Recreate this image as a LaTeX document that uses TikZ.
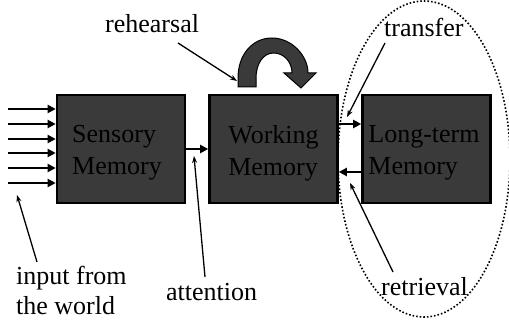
\documentclass[tikz,border=0pt]{standalone}
\usepackage{fontspec}
\setmainfont{Liberation Serif}
\usetikzlibrary{arrows.meta,shapes.geometric}
\definecolor{boxfill}{RGB}{58,58,58}
\definecolor{boxtext}{RGB}{0,0,0}
\begin{document}
\begin{tikzpicture}[x=1pt,y=-1pt,
  mem/.style={draw=black,line width=2.6pt,fill=boxfill,minimum width=128pt,minimum height=108pt,inner sep=0pt},
  memtext/.style={align=left,text=boxtext,inner sep=0pt,font=\fontsize{26}{32}\selectfont},
  lbl/.style={anchor=base west,inner sep=0pt,font=\fontsize{26}{30}\selectfont},
  flow/.style={line width=2.2pt,-{Triangle[length=8pt,width=8pt]}},
  ptr/.style={line width=1.3pt,-{Stealth[length=7pt,width=5pt]}}]
\useasboundingbox (0,0) rectangle (509,321);
% dotted ellipse
\node[draw,dotted,line width=1.6pt,ellipse,minimum width=172pt,minimum height=316pt,inner sep=0pt] (ell) at (424,159) {};
% boxes
\node[mem] (sm) at (121,149) {};
\node[mem] (wm) at (273.5,149) {};
\node[mem] (ltm) at (426.5,149) {};
\node[memtext] (tsm) at (117,153) {Sensory\\Memory};
\node[memtext] (twm) at (273.5,153) {Working\\Memory};
\node[memtext] (tltm) at (424,153) {Long-term\\Memory};
% input arrows
\foreach \i/\yy in {1/109,2/124,3/139,4/153,5/168,6/183}{
  \coordinate (in\i) at (8,\yy);
  \draw[flow] (in\i) -- (in\i -| sm.west);
}
% between boxes
\coordinate (att) at (185,149);
\draw[flow] (sm.east |- att) -- (wm.west |- att);
\coordinate (tr) at (338,124);
\draw[flow] (wm.east |- tr) -- (ltm.west |- tr);
\coordinate (rt) at (338,172);
\draw[flow] (ltm.west |- rt) -- (wm.east |- rt);
% rehearsal curved arrow
\draw[fill=boxfill,line width=1pt,line join=miter] (238,87) -- (238,78)
  .. controls (238,55) and (252,38) .. (272,38)
  .. controls (292,38) and (308,56) .. (308,73)
  -- (316,73) -- (301,88) -- (284,73) -- (292,73)
  .. controls (292,62) and (284,53) .. (273.5,53)
  .. controls (263,53) and (256,64) .. (256,78)
  -- (256,87) -- cycle;
% labels
\node[lbl] (lreh) at (105,33) {rehearsal};
\node[lbl] (ltr) at (384,37) {transfer};
\node[lbl,align=left,anchor=north west] (lin) at (16,266) {input from\\the world};
\node[lbl] (latt) at (166,300) {attention};
\node[lbl] (lret) at (381,295) {retrieval};
% pointers
\coordinate (preh) at (237,81);
\draw[ptr] (178,43) -- (preh);
\coordinate (ptr1) at (347,117);
\draw[ptr] (385,43) -- (ptr1);
\coordinate (pin) at (17,195);
\draw[ptr] (37,262) -- (pin);
\coordinate (patt) at (194,156);
\draw[ptr] (205,277) -- (patt);
\coordinate (pret) at (350,183);
\draw[ptr] (393,272) -- (pret);
\end{tikzpicture}
\end{document}
